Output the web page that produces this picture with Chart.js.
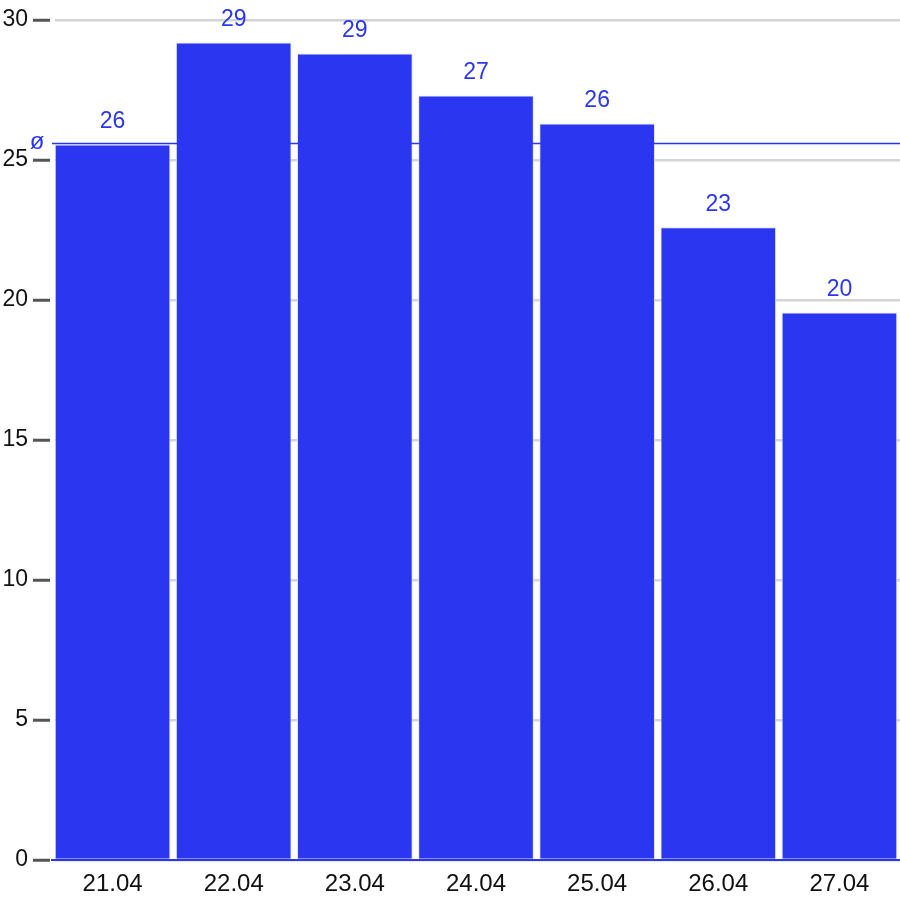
<!DOCTYPE html>
<html>
<head>
<meta charset="utf-8">
<script src="https://cdn.jsdelivr.net/npm/chart.js@4/dist/chart.umd.min.js"></script>
<style>
  html, body { margin: 0; padding: 0; background: #fff; }
  #wrap { width: 900px; height: 900px; }
</style>
</head>
<body>
<div id="wrap"><canvas id="dayChart"></canvas></div>
<script>
// chart data
const days = ['21.04', '22.04', '23.04', '24.04', '25.04', '26.04', '27.04'];
const values = [25.55, 29.2, 28.8, 27.3, 26.3, 22.6, 19.55];
const yTicks = [0, 5, 10, 15, 20, 25, 30];

const BLUE = '#2b36f0';
const FONT = '"Liberation Sans", Arial, sans-serif';

const average = values.reduce((a, b) => a + b, 0) / values.length;

// value labels above bars + average line
const overlayPlugin = {
    id: 'overlay',
    afterDatasetsDraw(chart) {
        const ctx = chart.ctx;
        const area = chart.chartArea;
        const y = chart.scales.y;
        const meta = chart.getDatasetMeta(0);

        ctx.save();
        ctx.fillStyle = BLUE;
        ctx.font = '23px ' + FONT;
        ctx.textAlign = 'center';
        ctx.textBaseline = 'middle';
        meta.data.forEach((bar, i) => {
            ctx.fillText(Math.round(values[i]), bar.x, bar.y - 23);
        });

        // average line
        const ay = Math.round(y.getPixelForValue(average)) + 0.5;
        ctx.strokeStyle = BLUE;
        ctx.lineWidth = 1.3;
        ctx.beginPath();
        ctx.moveTo(area.left, ay);
        ctx.lineTo(area.right, ay);
        ctx.stroke();

        ctx.font = '24px ' + FONT;
        ctx.textAlign = 'center';
        ctx.textBaseline = 'middle';
        ctx.fillText('ø', area.left - 15, ay - 1);
        ctx.restore();
    }
};

const ctx = document.getElementById('dayChart').getContext('2d');
new Chart(ctx, {
    type: 'bar',
    data: {
        labels: days,
        datasets: [{
            data: values,
            backgroundColor: BLUE,
            borderColor: 'rgba(225, 228, 255, 1)',
            borderWidth: 1,
            categoryPercentage: 1,
            barPercentage: 0.955
        }]
    },
    options: {
        responsive: true,
        maintainAspectRatio: false,
        animation: false,
        layout: { padding: { top: 20, right: 0, bottom: 0, left: 0 } },
        plugins: {
            legend: { display: false },
            tooltip: { enabled: false }
        },
        scales: {
            y: {
                min: 0,
                max: 30,
                afterBuildTicks(scale) {
                    scale.ticks = yTicks.map(v => ({ value: v }));
                },
                afterFit(scale) {
                    scale.width = 52;
                },
                ticks: {
                    color: '#111',
                    padding: 5,
                    font: { family: FONT, size: 23 }
                },
                grid: {
                    color: '#d4d4d4',
                    lineWidth: 2.5,
                    tickColor: '#555',
                    tickWidth: 3,
                    tickLength: 19
                },
                border: {
                    display: true,
                    color: '#fff',
                    width: 5
                }
            },
            x: {
                afterFit(scale) {
                    scale.height = 40;
                },
                ticks: {
                    color: '#111',
                    padding: 10,
                    font: { family: FONT, size: 24 }
                },
                grid: { display: false, drawTicks: false },
                border: {
                    display: true,
                    color: BLUE,
                    width: 2
                }
            }
        }
    },
    plugins: [overlayPlugin]
});
</script>
</body>
</html>
